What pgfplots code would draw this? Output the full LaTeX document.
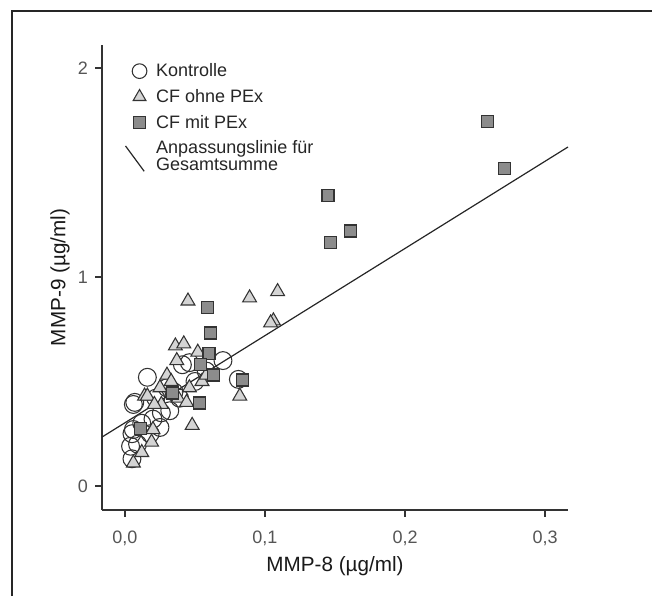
\documentclass[border=0pt]{standalone}
\usepackage{fontspec}
\setmainfont{Liberation Sans}
\usepackage{pgfplots}
\pgfplotsset{compat=1.18}
\definecolor{tri}{HTML}{D4D4D4}
\definecolor{sq}{HTML}{8C8C8C}
\definecolor{edge}{HTML}{333333}
\definecolor{tickgray}{HTML}{555555}
\begin{document}
\begin{tikzpicture}
\useasboundingbox (0,0) rectangle (489pt,447pt);
\draw[line width=1.5pt, color=black!85] (9pt,0) -- (9pt,438.75pt) -- (489pt,438.75pt);
\begin{axis}[
 at={(76.5pt,64.5pt)}, anchor=south west,
 scale only axis, width=349.5pt, height=348.75pt,
 xmin=-0.0164, xmax=0.3164, ymin=-0.115, ymax=2.11,
 axis lines=left, axis line style={-, line width=1.1pt, color=edge},
 xtick={0,0.1,0.2,0.3}, xticklabels={{0,0},{0,1},{0,2},{0,3}},
 ytick={0,1,2}, yticklabels={0,1,2},
 tick align=outside, major tick length=5pt,
 tick style={line width=1pt, color=edge},
 ticklabel style={font=\fontsize{13.5}{15}\selectfont, text=tickgray},
 xticklabel style={yshift=-7pt},
 yticklabel style={xshift=-2pt},
 /pgf/number format/assume math mode=true,
 xlabel={MMP-8 (µg/ml)}, ylabel={MMP-9 (µg/ml)},
 label style={font=\fontsize{15.5}{18}\selectfont, text=black!90},
 xlabel style={at={(axis description cs:0.5,-0.12)}, anchor=center},
 ylabel style={at={(axis description cs:-0.09,0.5)}, anchor=center},
 legend style={draw=none, fill=none, at={(axis description cs:0.04,0.972)}, anchor=north west,
   font=\fontsize{13.5}{12.5}\selectfont, text=black!85, row sep=4pt,
   cells={anchor=west, align=left}},
 legend cell align=left,
 clip=false,
]
\addplot[only marks, mark=o, mark size=6.7pt, mark options={draw=edge, line width=0.8pt},
  legend image post style={mark size=5.5pt}] table {
x y
0.004 0.19
0.005 0.13
0.009 0.20
0.006 0.27
0.005 0.25
0.006 0.39
0.007 0.40
0.012 0.30
0.018 0.25
0.025 0.28
0.016 0.52
0.026 0.35
0.032 0.36
0.022 0.42
0.039 0.42
0.030 0.47
0.046 0.59
0.041 0.58
0.070 0.60
0.081 0.51
0.050 0.50
0.058 0.55
0.035 0.45
0.020 0.32
};
\addlegendentry{\hspace*{5pt}Kontrolle}
\addplot[only marks, mark=triangle*, mark size=6pt, mark options={fill=tri, draw=edge, line width=0.8pt},
  legend image post style={mark size=5.5pt}] table {
x y
0.006 0.11
0.012 0.16
0.019 0.21
0.020 0.27
0.014 0.43
0.016 0.43
0.026 0.39
0.038 0.42
0.044 0.40
0.030 0.53
0.046 0.47
0.055 0.50
0.037 0.60
0.036 0.67
0.042 0.68
0.052 0.64
0.045 0.885
0.089 0.90
0.109 0.93
0.106 0.79
0.104 0.78
0.082 0.43
0.048 0.29
0.025 0.47
0.033 0.50
0.058 0.53
0.021 0.39
};
\addlegendentry{\hspace*{5pt}CF ohne PEx}
\addplot[only marks, mark=square*, mark size=4.5pt, mark options={fill=sq, draw=edge, line width=0.8pt}] table {
x y
0.259 1.742
0.271 1.52
0.145 1.388
0.161 1.22
0.147 1.163
0.059 0.856
0.061 0.732
0.060 0.632
0.054 0.579
0.063 0.531
0.084 0.507
0.053 0.397
0.034 0.445
0.011 0.277
};
\addlegendentry{\hspace*{5pt}CF mit PEx}
\addplot[no marks, line width=0.9pt, color=black!85,
  legend image code/.code={\draw[line width=0.9pt, color=black!85] (-2pt,8pt) -- (12pt,-11pt);}] coordinates {
(-0.0164,0.234) (0.3164,1.622)
};
\addlegendentry{\hspace*{5pt}Anpassungslinie für\\\hspace*{5pt}Gesamtsumme}
\end{axis}
\end{tikzpicture}
\end{document}
